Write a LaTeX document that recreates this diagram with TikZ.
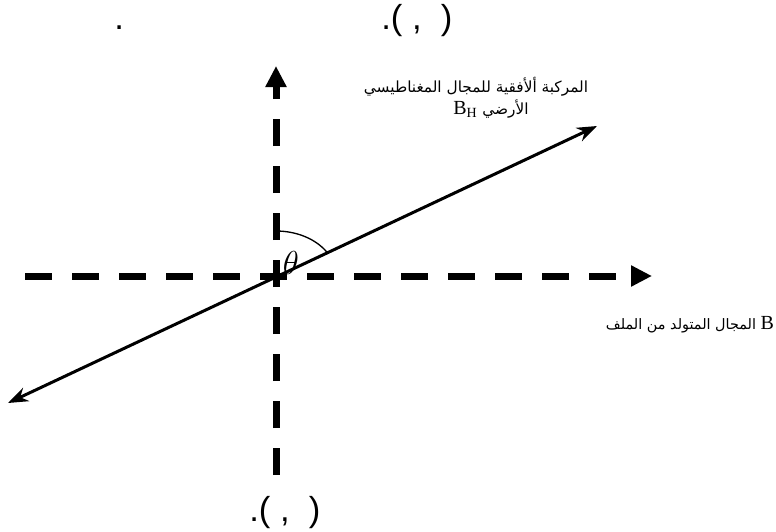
\documentclass[tikz,border=0pt]{standalone}
\usepackage{fontspec}
\setmainfont{Liberation Serif}
\newfontfamily\arabicfont[Script=Arabic]{DejaVu Sans}
\newfontfamily\gapfont{Liberation Sans}
\TeXXeTstate=1
\usetikzlibrary{arrows.meta}

\tikzset{
  axisline/.style={line width=5.25pt, dash pattern=on 20.25pt off 15pt,
    -{Triangle[length=15.75pt,width=15pt]}},
  fieldvec/.style={line width=2.25pt,
    {Stealth[length=15pt,width=11pt]}-{Stealth[length=15pt,width=11pt]}},
  artext/.style={font=\fontsize{11.5}{14}\arabicfont},
  gaptext/.style={font=\fontsize{26}{30}\gapfont, inner sep=0pt, anchor=base west},
}

\begin{document}
\begin{tikzpicture}[x=0.75pt, y=-0.75pt]
    \useasboundingbox (0,0) rectangle (776,532);
    % fragments of text
    \node[gaptext] (gapa) at (114,29) {.};
    \node[gaptext] (gapb) at (381,29) {.(\ ,\ \ )};
    \node[gaptext] (gapc) at (249,521) {.(\ ,\ \ )};

    % axes
    \coordinate (o) at (276,276);
    \coordinate (hl) at (25,276);
    \coordinate (hr) at (652,276);
    \coordinate (vb) at (276,475);
    \coordinate (vt) at (276,66);
    \draw[axisline] (hl) -- (hr);
    \draw[axisline] (vb) -- (vt);

    % horizontal component
    \coordinate (dl) at (8,403);
    \coordinate (dr) at (597,126);
    \draw[fieldvec] (dl) -- (dr);

    % angle
    \draw[line width=1pt] (o) ++(0,-45) arc[start angle=-90, end angle=-32, x radius=60, y radius=45];
    \node[font=\Huge] (theta) at (291,263) {$\theta$};

    % labels
    \node[artext] (lblh) at (476,87) {\beginR المركبة ألأفقية للمجال المغناطيسي\endR};
    \node[artext] (lblbh) at (491,109) {\beginR الأرضي \beginL{\rmfamily\fontsize{15}{18}\selectfont B\textsubscript{H}}\endL\endR};
    \node[artext, font=\fontsize{10.8}{13}\arabicfont] (lblb) at (690,325) {\beginR المجال المتولد من الملف\endR\ {\rmfamily\fontsize{15}{18}\selectfont B}};
\end{tikzpicture}
\end{document}
